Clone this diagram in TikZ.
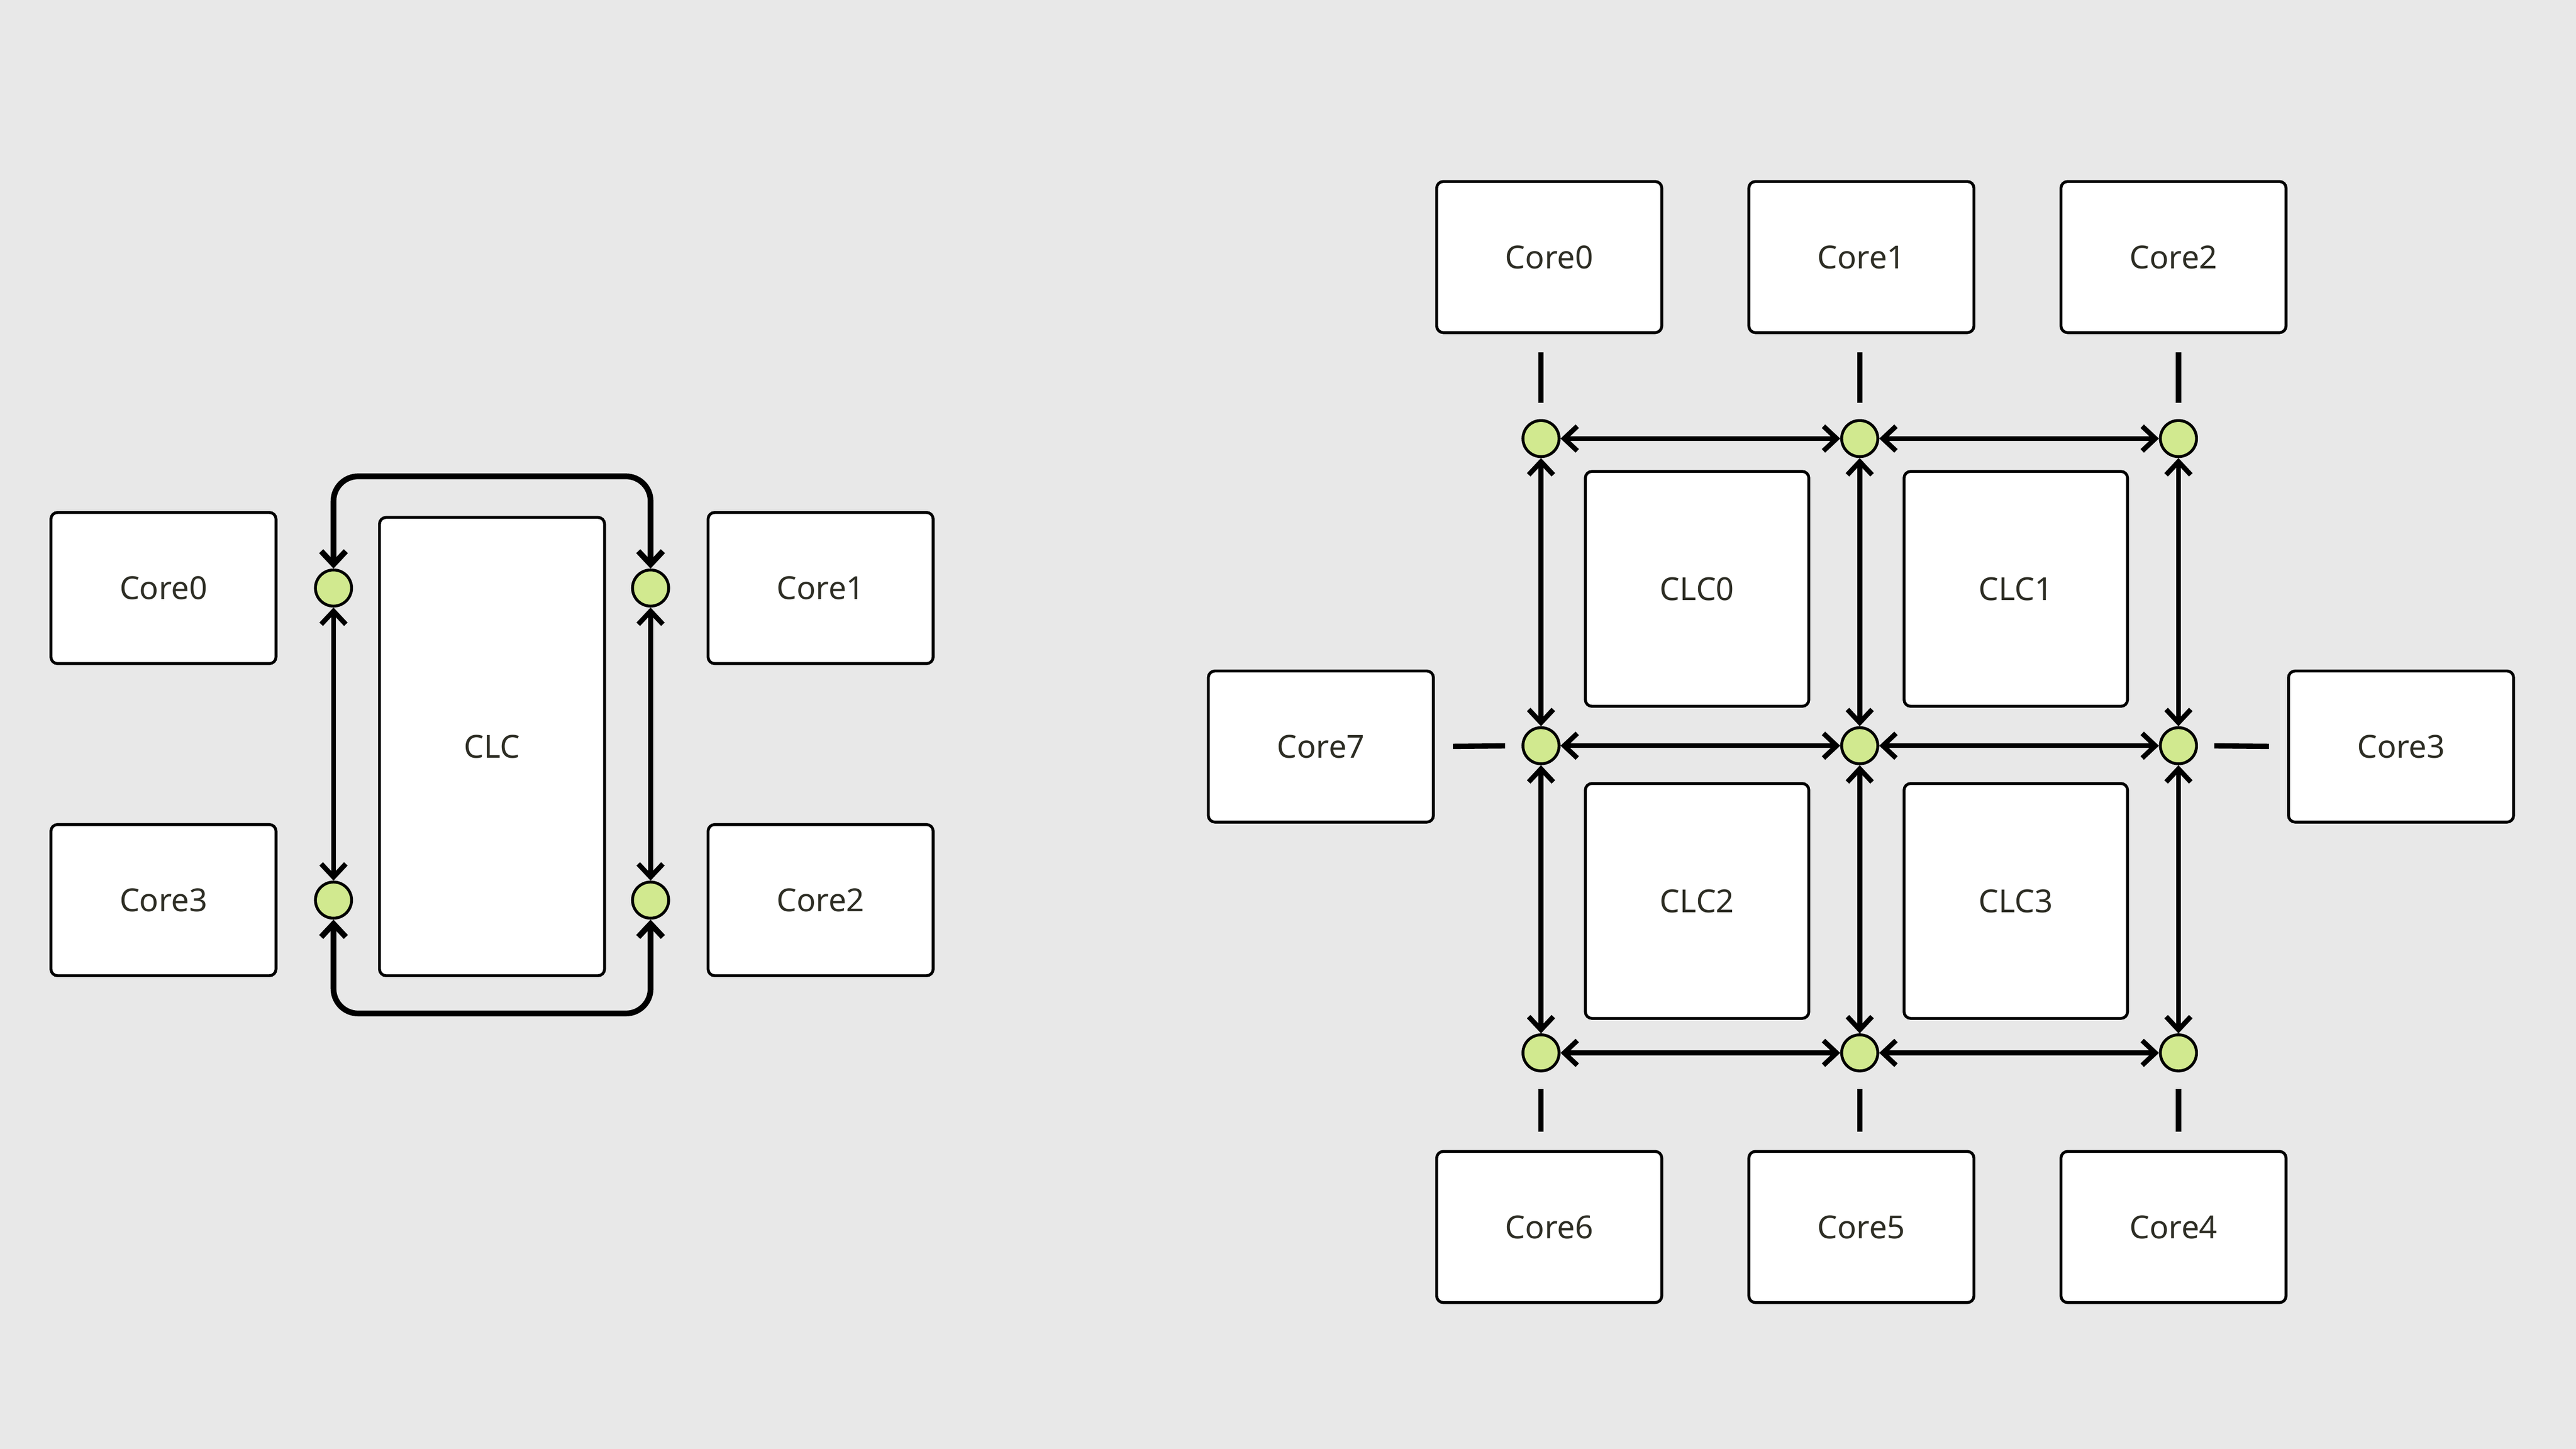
\documentclass[tikz,border=0pt]{standalone}
\usepackage{fontspec}
\setmainfont{Noto Sans}
\usepackage{xcolor}
\usepackage{tikz}
\usetikzlibrary{positioning,arrows.meta}
\definecolor{bggray}{HTML}{E8E8E8}
\definecolor{hubgreen}{HTML}{D1E98F}
\definecolor{labeltext}{HTML}{2D2D24}
\tikzset{
  box/.style={draw, line width=0.35mm, fill=white, rounded corners=0.8mm,
    minimum width=27.4mm, minimum height=18.4mm, inner sep=0pt,
    text=labeltext, font=\fontsize{11}{13}\selectfont},
  clcbox/.style={box, minimum width=27.2mm, minimum height=28.6mm},
  hub/.style={circle, draw, line width=0.35mm, fill=hubgreen, minimum size=4.4mm, inner sep=0pt},
  link/.style={{Straight Barb[length=1.6mm,width=3mm]}-{Straight Barb[length=1.6mm,width=3mm]}, line width=0.6mm},
  ring/.style={link, line width=0.7mm, rounded corners=3mm},
  stub/.style={line width=0.65mm, shorten <=2.2mm, shorten >=2mm},
}

\begin{document}
\begin{tikzpicture}[x=0.2mm, y=-0.2mm]
	\fill[bggray] (0,0) rectangle (1568,882);
	\useasboundingbox (0,0) rectangle (1568,882);

	% left: one CLC, four cores
	\node[box] (lcore0) at (99.5,358) {Core0};
	\node[box] (lcore1) at (499.5,358) {Core1};
	\node[box] (lcore2) at (499.5,548) {Core2};
	\node[box] (lcore3) at (99.5,548) {Core3};
	\node[box, minimum height=55.8mm] (lclc) at (299.5,454.5) {CLC};
	\node[hub] (lhub0) at (203,358) {};
	\node[hub] (lhub1) at (396,358) {};
	\node[hub] (lhub2) at (396,548) {};
	\node[hub] (lhub3) at (203,548) {};
	\coordinate (ltop) at (299.5,290);
	\coordinate (lbot) at (299.5,617);
	\draw[link] (lhub0) -- (lhub3);
	\draw[link] (lhub1) -- (lhub2);
	\draw[ring] (lhub0.north) |- (ltop) -| (lhub1.north);
	\draw[ring] (lhub3.south) |- (lbot) -| (lhub2.south);

	% right: four CLCs, eight cores
	\node[box] (core0) at (943,156.5) {Core0};
	\node[box] (core1) at (1133,156.5) {Core1};
	\node[box] (core2) at (1323,156.5) {Core2};
	\node[box] (core3) at (1461.5,454.5) {Core3};
	\node[box] (core4) at (1323,747) {Core4};
	\node[box] (core5) at (1133,747) {Core5};
	\node[box] (core6) at (943,747) {Core6};
	\node[box] (core7) at (804,454.5) {Core7};
	\node[clcbox] (clc0) at (1033,358.5) {CLC0};
	\node[clcbox] (clc1) at (1227,358.5) {CLC1};
	\node[clcbox] (clc2) at (1033,548.5) {CLC2};
	\node[clcbox] (clc3) at (1227,548.5) {CLC3};
	\node[hub] (hub00) at (938,267) {};
	\node[hub] (hub01) at (1132,267) {};
	\node[hub] (hub02) at (1326,267) {};
	\node[hub] (hub10) at (938,454) {};
	\node[hub] (hub11) at (1132,454) {};
	\node[hub] (hub12) at (1326,454) {};
	\node[hub] (hub20) at (938,641) {};
	\node[hub] (hub21) at (1132,641) {};
	\node[hub] (hub22) at (1326,641) {};
	\draw[link] (hub00) -- (hub01);
	\draw[link] (hub01) -- (hub02);
	\draw[link] (hub10) -- (hub11);
	\draw[link] (hub11) -- (hub12);
	\draw[link] (hub20) -- (hub21);
	\draw[link] (hub21) -- (hub22);
	\draw[link] (hub00) -- (hub10);
	\draw[link] (hub10) -- (hub20);
	\draw[link] (hub01) -- (hub11);
	\draw[link] (hub11) -- (hub21);
	\draw[link] (hub02) -- (hub12);
	\draw[link] (hub12) -- (hub22);
	\draw[stub] (core0.south -| hub00) -- (hub00.north);
	\draw[stub] (core1.south -| hub01) -- (hub01.north);
	\draw[stub] (core2.south -| hub02) -- (hub02.north);
	\draw[stub] (core6.north -| hub20) -- (hub20.south);
	\draw[stub] (core5.north -| hub21) -- (hub21.south);
	\draw[stub] (core4.north -| hub22) -- (hub22.south);
	\draw[stub] (core7.east) -- (hub10.west);
	\draw[stub] (core3.west) -- (hub12.east);
\end{tikzpicture}
\end{document}
